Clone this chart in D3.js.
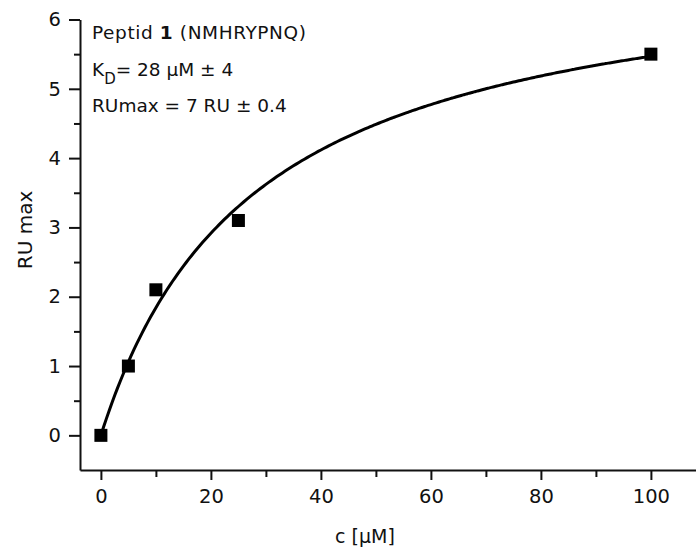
<!DOCTYPE html>
<html>
<head>
<meta charset="utf-8">
<script src="https://cdn.jsdelivr.net/npm/d3@7"></script>
<style>
  html, body { margin: 0; padding: 0; background: #fff; }
  svg text { font-family: "DejaVu Sans", "Open Sans", sans-serif; fill: #111; }
</style>
</head>
<body>
<svg id="chart" width="696" height="548"></svg>
<script>
// Measured binding data: concentration (µM) vs. response (RU)
const concentrations = [0, 5, 10, 25, 100];
const responses = [0, 1, 2.1, 3.1, 5.5];

// Fit parameters (1:1 Langmuir binding)
const KD = 28;
const KD_ERR = 4;
const RUMAX = 7;
const RUMAX_ERR = 0.4;

const xTicks = [0, 20, 40, 60, 80, 100];
const xMinorTicks = [10, 30, 50, 70, 90];
const yTicks = [0, 1, 2, 3, 4, 5, 6];
const yMinorTicks = [0.5, 1.5, 2.5, 3.5, 4.5, 5.5];

const svg = d3.select("#chart");

const x = d3.scaleLinear().domain([-3.8, 108.2]).range([80, 696]);
const y = d3.scaleLinear().domain([-0.5, 6]).range([470, 19.5]);

const axisColor = "#111";

// Y axis
const yAxis = svg.append("g").attr("transform", `translate(${x.range()[0]},0)`);
yAxis.call(d3.axisLeft(y).tickValues(yTicks).tickSize(11).tickPadding(8).tickFormat(d3.format("d")).tickSizeOuter(0));
yAxis.append("g").call(d3.axisLeft(y).tickValues(yMinorTicks).tickSize(6).tickFormat("").tickSizeOuter(0))
  .select(".domain").remove();

// X axis
const xAxis = svg.append("g").attr("transform", `translate(0,${y.range()[0]})`);
xAxis.call(d3.axisBottom(x).tickValues(xTicks).tickSize(10).tickPadding(9).tickFormat(d3.format("d")).tickSizeOuter(0));
xAxis.append("g").call(d3.axisBottom(x).tickValues(xMinorTicks).tickSize(7).tickFormat("").tickSizeOuter(0))
  .select(".domain").remove();

svg.selectAll(".domain, .tick line").attr("stroke", axisColor).attr("stroke-width", 2);
svg.selectAll(".tick text").attr("font-size", 19.5).attr("fill", "#111");

// Axis titles
svg.append("text")
  .attr("x", 365).attr("y", 543)
  .attr("text-anchor", "middle").attr("font-size", 19)
  .text("c [µM]");

svg.append("text")
  .attr("transform", "translate(32,230) rotate(-90)")
  .attr("text-anchor", "middle").attr("font-size", 20)
  .text("RU max");

// Fitted binding curve: RU = RUmax * c / (KD + c)
const fitX = d3.range(0, 100.01, 0.5);
const fitLine = d3.line()
  .x(c => x(c))
  .y(c => y(RUMAX * c / (KD + c)))
  .curve(d3.curveMonotoneX);

svg.append("path")
  .datum(fitX)
  .attr("d", fitLine)
  .attr("fill", "none")
  .attr("stroke", "#000")
  .attr("stroke-width", 3);

// Data points
const pts = concentrations.map((c, i) => ({ c, r: responses[i] }));
const sz = 13;
svg.append("g").selectAll("rect")
  .data(pts)
  .join("rect")
  .attr("x", d => x(d.c) - sz / 2)
  .attr("y", d => y(d.r) - sz / 2)
  .attr("width", sz)
  .attr("height", sz)
  .attr("fill", "#000");

// Annotation
const ann = svg.append("g").attr("font-size", 18.5);
const t1 = ann.append("text").attr("x", 92).attr("y", 39).attr("letter-spacing", 0.6);
t1.append("tspan").text("Peptid ");
t1.append("tspan").attr("font-weight", "bold").text("1");
t1.append("tspan").text(" (NMHRYPNQ)");

const t2 = ann.append("text").attr("x", 92).attr("y", 75.5);
t2.append("tspan").text("K");
t2.append("tspan").attr("font-size", 15).attr("dy", 8).text("D");
t2.append("tspan").attr("dy", -8).text(`= ${KD} µM ± ${KD_ERR}`);

ann.append("text").attr("x", 92).attr("y", 112)
  .text(`RUmax = ${RUMAX} RU ± ${RUMAX_ERR}`);
</script>
</body>
</html>
